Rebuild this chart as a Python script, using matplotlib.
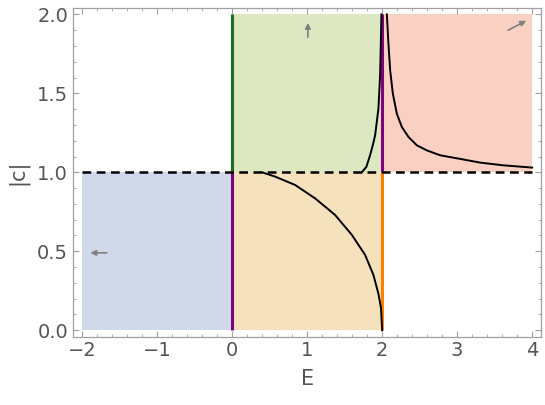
import matplotlib
matplotlib.use("Agg")
import matplotlib.pyplot as plt
from matplotlib.ticker import MultipleLocator

# regions (E range, |c| range, colour)
regions = [
    ((-2, 0), (0, 1), "#cfd9e9"),
    ((0, 2), (1, 2), "#dde7c1"),
    ((0, 2), (0, 1), "#f6e1bd"),
    ((2, 4), (1, 2), "#f9d0c2"),
]

# vertical boundary lines: E, |c| from, |c| to, colour
vlines = [
    (0, 1, 2, "#1f6e1f"),
    (0, 0, 1, "#800080"),
    (2, 1, 2, "#800080"),
    (2, 0, 1, "#ff8000"),
]

# curves
E_low = [0.40, 0.573, 0.84, 1.107, 1.373, 1.596, 1.773, 1.884, 1.951, 1.985, 2.0]
c_low = [1.0, 0.973, 0.92, 0.835, 0.73, 0.604, 0.477, 0.35, 0.23, 0.14, 0.0]

E_mid = [1.729, 1.79, 1.84, 1.88, 1.907, 1.951, 1.973, 1.991]
c_mid = [1.0, 1.035, 1.109, 1.18, 1.236, 1.405, 1.616, 2.0]

E_high = [2.063, 2.084, 2.107, 2.143, 2.196, 2.263, 2.351, 2.463, 2.596,
          2.773, 3.04, 3.3, 3.6, 4.0]
c_high = [2.0, 1.815, 1.646, 1.498, 1.371, 1.287, 1.224, 1.171, 1.139,
          1.108, 1.085, 1.062, 1.045, 1.03]

# small grey arrows: start -> end
arrows = [
    ((-1.67, 0.49), (-1.89, 0.49)),
    ((1.01, 1.856), (1.01, 1.947)),
    ((3.68, 1.90), (3.92, 1.96)),
]

fig = plt.figure(figsize=(5.45, 4.05), dpi=100)
ax = fig.add_axes([0.134, 0.169, 0.859, 0.811])

for (x0, x1), (y0, y1), col in regions:
    ax.fill_between([x0, x1], y0, y1, color=col, linewidth=0, zorder=1)

for x, y0, y1, col in vlines:
    ax.plot([x, x], [y0, y1], color=col, lw=2.2, zorder=3, solid_capstyle="butt")

for E, c in [(E_low, c_low), (E_mid, c_mid), (E_high, c_high)]:
    ax.plot(E, c, color="black", lw=1.4, zorder=4)

ax.plot([-2, 4], [1, 1], color="black", lw=1.8, ls=(0, (3.5, 2.2)), zorder=5)

for (xs, ys), (xe, ye) in arrows:
    ax.annotate("", xy=(xe, ye), xytext=(xs, ys),
                arrowprops=dict(arrowstyle="-|>", color="#808080", lw=1.2,
                                mutation_scale=8, shrinkA=0, shrinkB=0),
                zorder=6)

ax.set_xlim(-2.12, 4.12)
ax.set_ylim(-0.04, 2.04)

ax.xaxis.set_major_locator(MultipleLocator(1))
ax.xaxis.set_minor_locator(MultipleLocator(0.2))
ax.yaxis.set_major_locator(MultipleLocator(0.5))
ax.yaxis.set_minor_locator(MultipleLocator(0.1))
ax.yaxis.set_major_formatter(plt.FuncFormatter(lambda v, p: f"{v:.1f}"))

for sp in ax.spines.values():
    sp.set_color("#a0a0a0")
    sp.set_linewidth(0.9)

ax.tick_params(which="both", direction="in", top=True, right=True,
               color="#a0a0a0", labelcolor="#555555", labelsize=14)
ax.tick_params(which="major", length=4.5, width=0.8)
ax.tick_params(which="minor", length=2.5, width=0.6)
ax.tick_params(labeltop=False, labelright=False)

ax.set_xlabel("E", fontsize=15, color="#555555", labelpad=6)
ax.set_ylabel("|c|", fontsize=15, color="#555555", labelpad=6)

fig.savefig("out.png", dpi=100)
